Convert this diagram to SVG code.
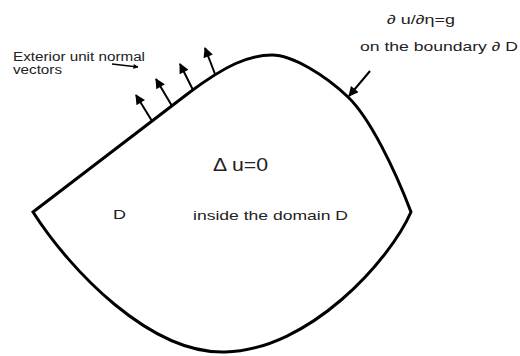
<svg xmlns="http://www.w3.org/2000/svg" width="520" height="356" viewBox="0 0 520 356">
<style>
text{font-family:"Liberation Sans",Arial,sans-serif;fill:#222}
.t11{font-size:12px}
.t12{font-size:13px}
.t16{font-size:18px}
.boundary{fill:none;stroke:#000;stroke-width:3;stroke-linejoin:miter}
.normal{stroke:#000;stroke-width:2;fill:none}
.thin{stroke:#000;stroke-width:1.3;fill:none}
</style>
<defs>
<marker id="ah" markerUnits="userSpaceOnUse" viewBox="0 0 10 10" refX="9" refY="5" markerWidth="12" markerHeight="10" orient="auto">
<path d="M0,0 L10,5 L0,10 Z" fill="#000"/>
</marker>
<marker id="ahs" markerUnits="userSpaceOnUse" viewBox="0 0 10 10" refX="9" refY="5" markerWidth="7" markerHeight="5" orient="auto">
<path d="M0,0 L10,5 L0,10 Z" fill="#000"/>
</marker>
</defs>
<g id="domain">
<path class="boundary" d="M33,212 L190,92 C225,66 248,55 272,55 C292,55 325,75 348,97 C370,118 395,170 411,212 C390,260 310,350 225,352 C150,354 70,270 33,212 Z"/>
</g>
<g id="connectors">
<line class="normal" x1="152" y1="121" x2="136" y2="95" marker-end="url(#ah)"/>
<line class="normal" x1="172" y1="106" x2="156" y2="79" marker-end="url(#ah)"/>
<line class="normal" x1="193" y1="90" x2="180" y2="64" marker-end="url(#ah)"/>
<line class="normal" x1="215" y1="74" x2="205" y2="48" marker-end="url(#ah)"/>
<line class="normal" x1="370" y1="71" x2="349" y2="96" marker-end="url(#ah)"/>
<line class="thin" x1="112" y1="64" x2="138" y2="67" marker-end="url(#ahs)"/>
</g>
<g id="label-normals">
<text class="t11" x="13" y="61" textLength="132" lengthAdjust="spacingAndGlyphs">Exterior unit normal</text>
<text class="t11" x="13" y="74" textLength="49" lengthAdjust="spacingAndGlyphs">vectors</text>
</g>
<g id="label-bc">
<text class="t12" x="387" y="24" textLength="68" lengthAdjust="spacingAndGlyphs">∂ u/∂η=g</text>
<text class="t12" x="360" y="51" textLength="158" lengthAdjust="spacingAndGlyphs">on the boundary ∂ D</text>
</g>
<g id="label-eq">
<text class="t16" x="213" y="171" textLength="55" lengthAdjust="spacingAndGlyphs">Δ u=0</text>
<text class="t12" x="113" y="219" textLength="13" lengthAdjust="spacingAndGlyphs">D</text>
<text class="t12" x="193" y="220" textLength="155" lengthAdjust="spacingAndGlyphs">inside the domain D</text>
</g>
</svg>
